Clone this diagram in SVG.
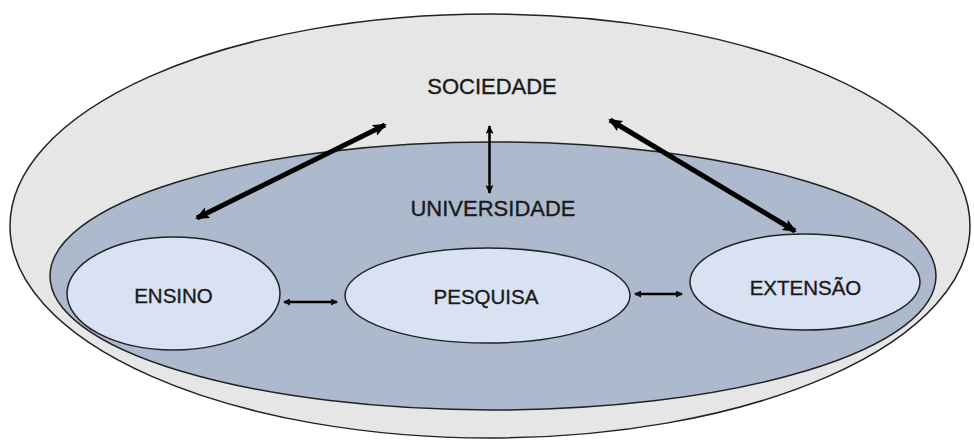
<svg xmlns="http://www.w3.org/2000/svg" width="974" height="445" viewBox="0 0 974 445">
<style>
.ol{stroke:#222;stroke-width:1.5}
.lbl{font-family:"Liberation Sans",Arial,sans-serif;fill:#1a1a1a;stroke:#1a1a1a;stroke-width:0.35;text-anchor:middle}
.big{font-size:22px}
.sm{font-size:20.5px}
.c{fill:none;stroke:#000}
</style>
<defs>
<marker id="hb" viewBox="0 0 14 12" refX="12" refY="6" markerWidth="14" markerHeight="12" markerUnits="userSpaceOnUse" orient="auto-start-reverse"><path d="M0,0 L14,6 L0,12 L3,6 Z" fill="#000"/></marker>
<marker id="hm" viewBox="0 0 9 8" refX="8" refY="4" markerWidth="9" markerHeight="8" markerUnits="userSpaceOnUse" orient="auto-start-reverse"><path d="M0,0 L9,4 L0,8 L2,4 Z" fill="#000"/></marker>
<marker id="hs" viewBox="0 0 7 7" refX="6" refY="3.5" markerWidth="7" markerHeight="7" markerUnits="userSpaceOnUse" orient="auto-start-reverse"><path d="M0,0 L7,3.5 L0,7 Z" fill="#111"/></marker>
</defs>
<g id="sociedade">
<ellipse cx="490" cy="226" rx="480" ry="212" fill="#e6e6e6" class="ol"/>
<text x="492" y="94" class="lbl big">SOCIEDADE</text>
</g>
<g id="universidade">
<ellipse cx="493" cy="276" rx="443" ry="134" fill="#adb9cc" class="ol"/>
<text x="493" y="216" class="lbl big">UNIVERSIDADE</text>
</g>
<g id="ensino">
<ellipse cx="173.5" cy="293.5" rx="106.5" ry="56.5" fill="#d9e2f3" class="ol"/>
<text x="173.5" y="302.5" class="lbl sm">ENSINO</text>
</g>
<g id="pesquisa">
<ellipse cx="487.5" cy="295.5" rx="142.5" ry="47.5" fill="#d9e2f3" class="ol"/>
<text x="486" y="304" class="lbl sm">PESQUISA</text>
</g>
<g id="extensao">
<ellipse cx="805" cy="282" rx="115" ry="48" fill="#d9e2f3" class="ol"/>
<text x="805.5" y="295" class="lbl sm">EXTENSÃO</text>
</g>
<g id="connectors">
<line x1="197" y1="218" x2="385" y2="125" class="c" stroke-width="5" marker-start="url(#hb)" marker-end="url(#hb)"/>
<line x1="489.5" y1="126" x2="489.5" y2="193" class="c" stroke-width="2.5" marker-start="url(#hm)" marker-end="url(#hm)"/>
<line x1="610" y1="120" x2="795" y2="231" class="c" stroke-width="5" marker-start="url(#hb)" marker-end="url(#hb)"/>
<line x1="284" y1="302" x2="337" y2="302" class="c" stroke-width="2.5" stroke="#222" marker-start="url(#hs)" marker-end="url(#hs)"/>
<line x1="635" y1="294" x2="682" y2="294" class="c" stroke-width="2.5" stroke="#222" marker-start="url(#hs)" marker-end="url(#hs)"/>
</g>
</svg>
